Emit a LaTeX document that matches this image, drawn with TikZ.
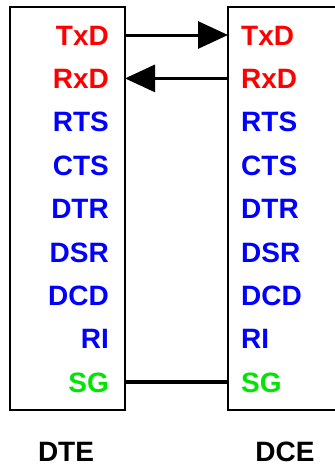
\documentclass[tikz,border=0pt]{standalone}
\usepackage{fontspec}
\setmainfont{Liberation Sans}
\usetikzlibrary{arrows.meta}
\definecolor{sigred}{RGB}{255,0,0}
\definecolor{sigblue}{RGB}{0,0,255}
\definecolor{siggreen}{RGB}{0,230,0}
\tikzset{
  sig/.style={font=\bfseries\fontsize{28}{28}\selectfont, inner sep=0pt},
  lsig/.style={sig, anchor=base east},
  rsig/.style={sig, anchor=base west},
  devbox/.style={draw=black, line width=2.4pt, fill=white},
  wire/.style={line width=3pt},
  gnd/.style={line width=4.5pt},
  tip/.style={-{Triangle[length=30pt,width=27pt]}},
  devname/.style={sig, anchor=base, text=black, text depth=0pt}
}
\begin{document}
\begin{tikzpicture}[x=1pt,y=-1pt]
  \useasboundingbox (0,0) rectangle (335,467);
  \clip (0,0) rectangle (335,467);

  % equipment boxes (the DCE box runs off the right side)
  \draw[devbox] (10,7) rectangle (125,410);
  \draw[devbox] (228,7) rectangle (360,410);

  % signal names, one row every 43.4 units
  \foreach \name/\lab/\col [count=\i from 0] in
    {txd/TxD/sigred, rxd/RxD/sigred, rts/RTS/sigblue, cts/CTS/sigblue,
     dtr/DTR/sigblue, dsr/DSR/sigblue, dcd/DCD/sigblue, ri/RI/sigblue,
     sg/SG/siggreen}{
    \pgfmathsetmacro{\yb}{35+43.4*\i+10}
    \node[lsig, text=\col] (L\name) at (109,\yb) {\lab};
    \node[rsig, text=\col] (R\name) at (241,\yb) {\lab};
    \coordinate (l\name) at (125,35+43.4*\i);
    \coordinate (r\name) at (228,35+43.4*\i);
  }

  % connections
  \draw[wire, tip] (ltxd) -- (rtxd);
  \draw[wire, tip] (rrxd) -- (lrxd);
  \draw[gnd] (lsg) -- (rsg);

  % device names
  \node[devname] (dte) at (66,461) {DTE};
  \node[devname] (dce) at (285,461) {DCE};
\end{tikzpicture}
\end{document}
